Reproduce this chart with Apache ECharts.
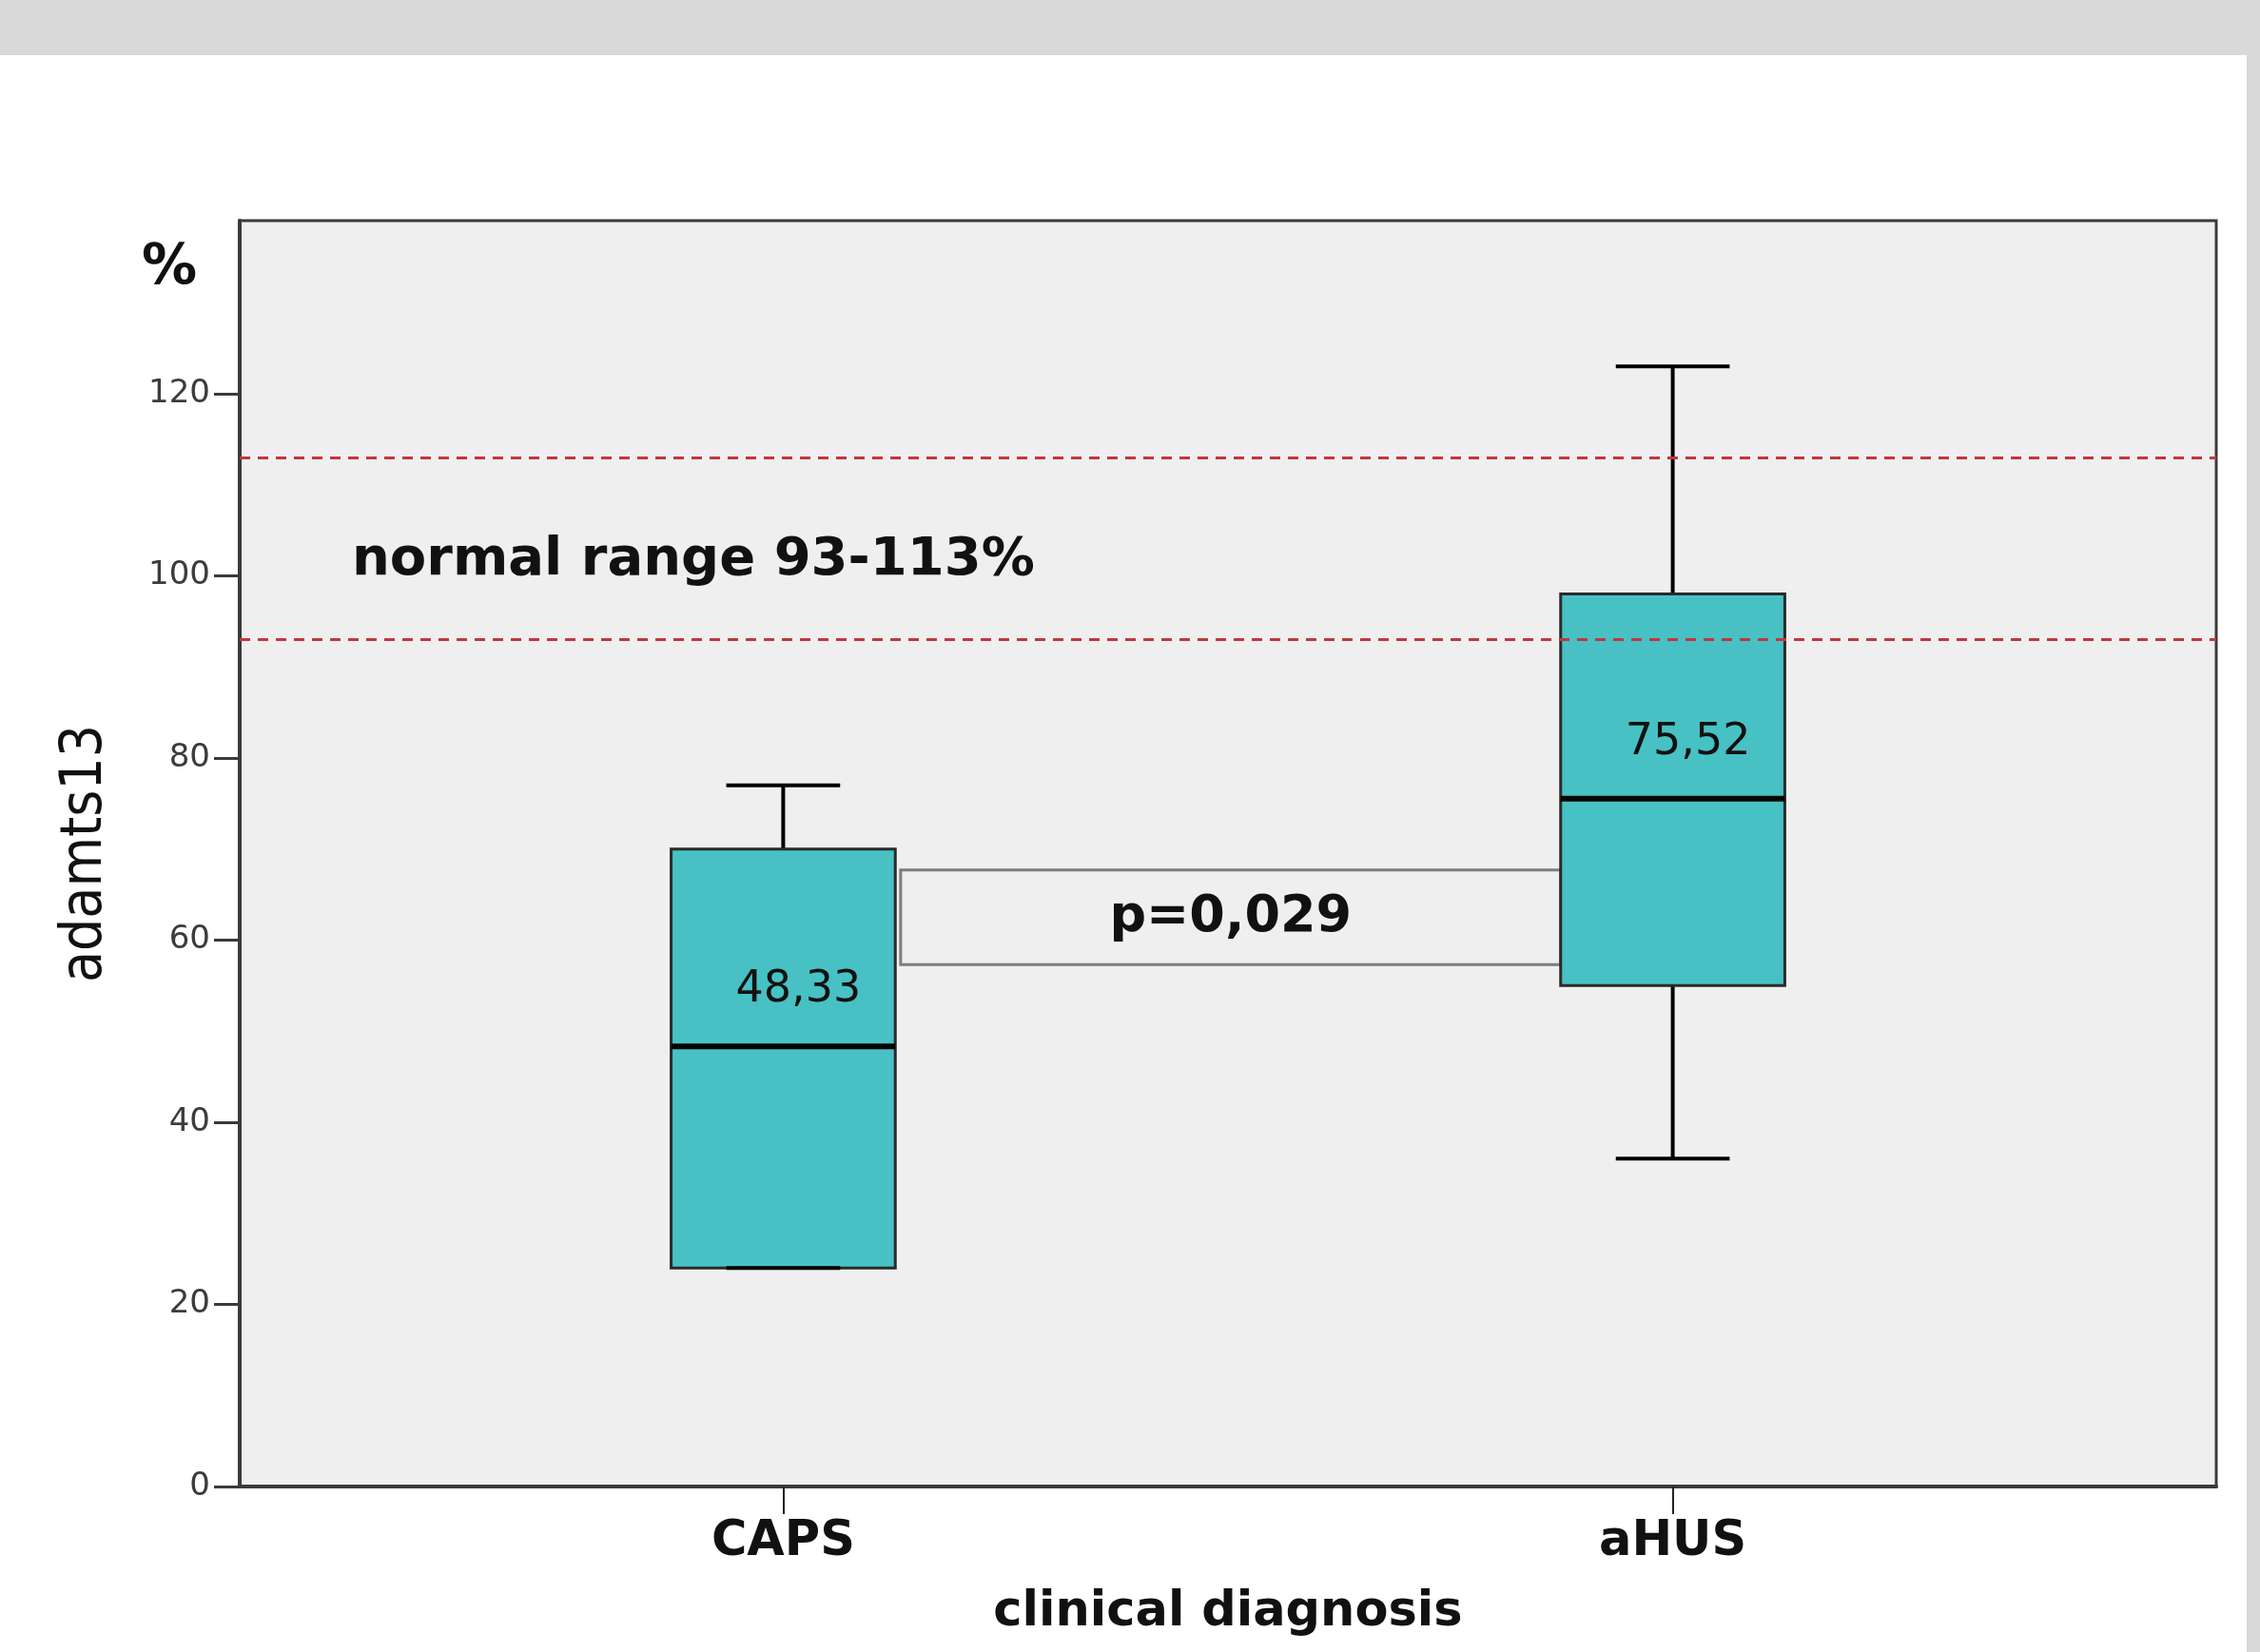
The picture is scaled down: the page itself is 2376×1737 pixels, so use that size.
<!DOCTYPE html>
<html>
<head>
<meta charset="utf-8">
<title>ADAMTS13 activity by clinical diagnosis</title>
<style>
  html, body { margin: 0; padding: 0; background: #ffffff; }
  #chart { width: 2376px; height: 1737px; }
</style>
<script src="https://cdn.jsdelivr.net/npm/echarts@6/dist/echarts.min.js"></script>
</head>
<body>
<div id="chart"></div>
<script>
// Groups along the x axis
const categories = ['CAPS', 'aHUS'];

// Box-plot summaries of ADAMTS13 activity (%) per group
const whiskerLow  = [24, 36];
const quartile1   = [24, 55];
const medians     = [48.33, 75.52];
const quartile3   = [70, 98];
const whiskerHigh = [77, 123];

// Reference interval for ADAMTS13 activity (%)
const normalRange = [93, 113];
const normalRangeLabel = 'normal range 93-113%';

// Group comparison annotation and the value band it spans
const pLabel = 'p=0,029';
const pBand = [57.3, 67.7];

// Y axis tick values
const yTicks = [0, 20, 40, 60, 80, 100, 120];

// Half widths of box and whisker caps, in x-axis units (one unit between groups)
const BOX_HALF = 0.126;
const CAP_HALF = 0.064;

const INK = '#111111';
const AXIS = '#3a3a3a';
const BOX_FILL = '#48c1c4';

function fmtComma(v) {
  return v.toFixed(2).replace('.', ',');
}

function renderBox(params, api) {
  const x = api.value(0);
  const lo = api.value(1), q1 = api.value(2), md = api.value(3), q3 = api.value(4), hi = api.value(5);
  const c = (xx, yy) => api.coord([xx, yy]);

  const pHi = c(x, hi), pQ3 = c(x, q3), pQ1 = c(x, q1), pLo = c(x, lo), pMd = c(x, md);
  const boxL = c(x - BOX_HALF, q3), boxR = c(x + BOX_HALF, q1);
  const capL = c(x - CAP_HALF, hi)[0], capR = c(x + CAP_HALF, hi)[0];
  const whisker = { stroke: '#000', lineWidth: 4 };

  return {
    type: 'group',
    children: [
      { type: 'line', shape: { x1: pHi[0], y1: pHi[1], x2: pQ3[0], y2: pQ3[1] }, style: whisker },
      { type: 'line', shape: { x1: pQ1[0], y1: pQ1[1], x2: pLo[0], y2: pLo[1] }, style: whisker },
      {
        type: 'rect',
        shape: { x: boxL[0], y: boxL[1], width: boxR[0] - boxL[0], height: boxR[1] - boxL[1] },
        style: { fill: BOX_FILL, stroke: '#2a2a2a', lineWidth: 3 }
      },
      { type: 'line', shape: { x1: boxL[0], y1: pMd[1], x2: boxR[0], y2: pMd[1] }, style: { stroke: '#050505', lineWidth: 6 } },
      { type: 'line', shape: { x1: capL, y1: pHi[1], x2: capR, y2: pHi[1] }, style: whisker },
      { type: 'line', shape: { x1: capL, y1: pLo[1], x2: capR, y2: pLo[1] }, style: whisker },
      {
        type: 'text',
        x: pMd[0] + 16,
        y: pMd[1] - 59,
        style: {
          text: fmtComma(md),
          font: '46px "DejaVu Sans"',
          fill: INK,
          align: 'center',
          verticalAlign: 'middle'
        }
      }
    ]
  };
}

const boxData = categories.map((name, i) => [i, whiskerLow[i], quartile1[i], medians[i], quartile3[i], whiskerHigh[i]]);

const chart = echarts.init(document.getElementById('chart'), null, { renderer: 'canvas' });

chart.setOption({
  animation: false,
  backgroundColor: '#ffffff',
  grid: {
    left: 252, right: 46, top: 232, bottom: 174,
    show: true,
    backgroundColor: '#efefef',
    borderColor: AXIS,
    borderWidth: 3
  },
  xAxis: {
    type: 'value',
    min: -0.611,
    max: 1.611,
    splitLine: { show: false },
    axisLine: { show: true, onZero: false, lineStyle: { color: AXIS, width: 4 } },
    axisTick: {
      show: true, customValues: [0, 1], length: 29, inside: false,
      lineStyle: { color: '#222', width: 2 }
    },
    axisLabel: {
      customValues: [0, 1],
      formatter: v => categories[Math.round(v)],
      margin: 33,
      color: INK,
      fontFamily: 'DejaVu Sans',
      fontWeight: 'bold',
      fontSize: 51
    },
    name: 'clinical diagnosis',
    nameLocation: 'middle',
    nameGap: 107,
    nameTextStyle: { color: INK, fontFamily: 'DejaVu Sans', fontWeight: 'bold', fontSize: 51 }
  },
  yAxis: {
    type: 'value',
    min: 0,
    max: 139,
    interval: 20,
    splitLine: { show: false },
    axisLine: { show: true, onZero: false, lineStyle: { color: AXIS, width: 4 } },
    axisTick: {
      show: true, customValues: yTicks, length: 27,
      lineStyle: { color: AXIS, width: 3 }
    },
    axisLabel: {
      customValues: yTicks,
      margin: 31,
      color: '#3c3c3c',
      fontFamily: 'DejaVu Sans',
      fontSize: 34
    },
    name: 'adamts13',
    nameLocation: 'middle',
    nameRotate: 90,
    nameGap: 132,
    nameTextStyle: { color: INK, fontFamily: '"Liberation Sans Narrow", "DejaVu Sans Condensed", sans-serif', fontSize: 60 }
  },
  graphic: [
    { type: 'rect', left: 0, top: 0, shape: { width: 2376, height: 58 }, style: { fill: '#d9d9d9' }, z: -10 },
    { type: 'rect', left: 2362, top: 0, shape: { width: 14, height: 1737 }, style: { fill: '#d9d9d9' }, z: -10 },
    {
      type: 'text', x: 178, y: 283,
      style: { text: '%', font: 'bold 58px "DejaVu Sans"', fill: INK, align: 'center', verticalAlign: 'middle' }
    }
  ],
  series: [
    {
      name: 'adamts13',
      type: 'custom',
      renderItem: renderBox,
      encode: { x: 0, y: [1, 2, 3, 4, 5] },
      data: boxData,
      z: 2,
      silent: true
    },
    {
      // normal range: dashed bounds and caption
      type: 'line',
      data: [],
      z: 5,
      silent: true,
      markLine: {
        silent: true,
        symbol: ['none', 'none'],
        label: { show: false },
        lineStyle: { color: '#c4363c', width: 3, type: [11, 8] },
        data: normalRange.map(v => ({ yAxis: v }))
      },
      markArea: {
        silent: true,
        itemStyle: { color: 'rgba(0,0,0,0)' },
        label: {
          show: true,
          position: 'insideLeft',
          distance: 0,
          offset: [118, 13],
          color: INK,
          fontFamily: 'DejaVu Sans',
          fontWeight: 'bold',
          fontSize: 56
        },
        data: [[{ yAxis: normalRange[0], name: normalRangeLabel }, { yAxis: normalRange[1] }]]
      }
    },
    {
      // comparison between the two groups
      type: 'line',
      data: [],
      z: 4,
      silent: true,
      markArea: {
        silent: true,
        itemStyle: { color: 'rgba(0,0,0,0)', borderColor: '#7c7c7c', borderWidth: 3 },
        label: {
          show: true,
          position: 'inside',
          color: INK,
          fontFamily: 'DejaVu Sans',
          fontWeight: 'bold',
          fontSize: 54
        },
        data: [[
          { xAxis: 0 + BOX_HALF + 0.006, yAxis: pBand[0], name: pLabel },
          { xAxis: 1 - BOX_HALF, yAxis: pBand[1] }
        ]]
      }
    }
  ]
});
</script>
</body>
</html>
